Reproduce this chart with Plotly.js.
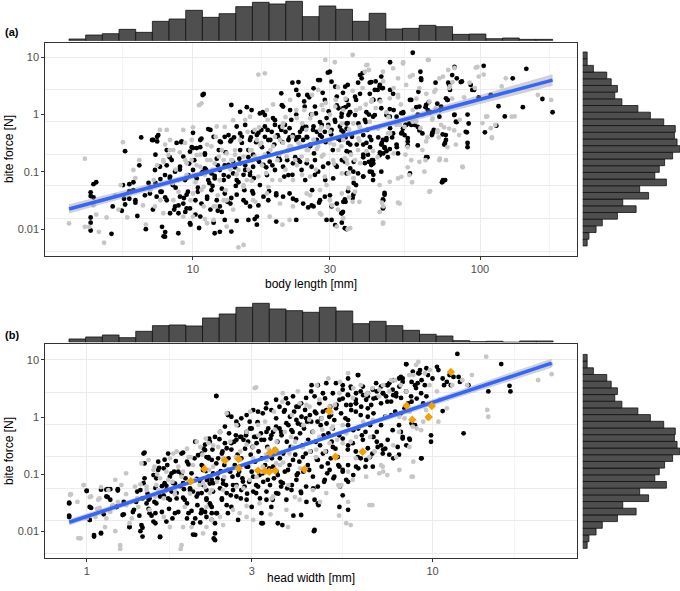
<!DOCTYPE html>
<html><head><meta charset="utf-8">
<script src="https://cdn.plot.ly/plotly-3.0.1.min.js"></script>
<style>html,body{margin:0;padding:0;background:#fff}#chart{width:680px;height:591px}</style>
</head><body><div id="chart"></div>
<script>
// ---------------- DATA ----------------
// Panel (a): body length [mm] vs bite force [N]  (black group / grey group)
const blackA = [[4.4,0.044],[4.4,0.038],[4.4,0.016],[4.4,0.013],[4.4,0.0095],[4.5,0.061],[4.6,0.066],[4.5,0.036],
[5.2,0.0083],[5.25,0.025],[5.7,0.059],[5.75,0.034],[5.8,0.23],[5.65,0.021],[5.8,0.027],[6.0,0.046],[6.0,0.034],[6.0,0.061],[6.2,0.066],[6.2,0.048],[6.3,0.032],[6.3,0.029],[6.4,0.017],[6.5,0.13],[6.6,0.40],[6.8,0.039],[6.85,0.01],[7.0,0.064],[7.1,0.053],[7.2,0.36],[7.25,0.022],[7.4,0.064],[7.4,0.2],[7.5,0.41],[7.5,0.34],[7.7,0.075],[7.7,0.045],[7.8,0.011],[7.9,0.0075],[8.0,0.0089],[8.0,0.036],[8.1,0.13],[8.3,0.078],[8.3,0.18],[8.5,0.059],[8.6,0.022],[8.7,0.053],[8.9,0.019],[8.9,0.026],[9.0,0.11],[9.1,0.33],[9.3,0.035],[9.4,0.020],[9.5,0.078],[9.5,0.023],[9.6,0.045],[9.7,0.14],[9.8,0.012],[9.9,0.27],[10,0.48],[10.1,0.16],[10.2,0.018],[10.2,0.085],[10.4,0.053],[10.5,0.0105],[10.6,0.27],[10.7,0.38],[10.8,2.2],[10.8,0.1],[11.0,0.2],[11.1,0.11],[11.2,0.034],[11.3,0.56],[11.4,0.064],[11.5,0.022],[11.7,0.057],[11.8,0.013],[11.9,0.085],[12.1,0.17],[12.2,0.13],[12.2,0.021],[12.4,0.009],[12.5,0.33],[12.6,0.051],[12.8,0.072],[12.9,0.13],[13.0,0.22],[13.2,0.030],[13.3,0.083],[13.5,0.34],[13.6,0.035],[13.8,0.15],[13.9,0.4],[14.0,0.12],[14.1,0.057],[14.2,0.014],[14.4,0.066],[14.5,0.17],[14.6,0.24],[14.8,0.41],[15.0,0.089],[15.1,0.048],[15.2,0.13],[15.3,0.029],[15.4,1.35],[15.6,0.18],[15.8,0.1],[15.9,0.40],[16.1,0.046],[16.2,0.2],[16.3,0.078],[16.4,0.015],[16.6,0.33],[16.7,0.012],[16.9,0.48],[17.0,0.15],[17.1,0.059],[17.4,0.27],[17.5,1.1],[17.8,0.41],[18.0,0.12],[18.2,0.54],[18.3,0.21],[18.4,0.046],[18.6,0.36],[18.9,0.13],[19.0,0.87],[19.2,0.3],[19.5,0.039],[19.7,0.44],[19.9,0.18],[20.1,0.61],[20.4,1.46],[20.5,0.33],[20.8,0.083],[21,0.5],[21.3,0.16],[21.5,0.24],[21.7,0.4],[21.8,1.2],[22.0,0.81],[22.2,0.089],[22.3,0.034],[22.7,0.18],[22.9,1.0],[23.0,0.4],[23.3,3.7],[23.4,0.41],[23.6,0.15],[24,0.56],[24.2,0.36],[24.4,1.7],[24.6,0.072],[24.8,0.61],[25.0,0.40],[25.2,0.024],[25.4,2.0],[25.6,0.30],[25.8,1.0],[26,0.048],[26.2,0.54],[26.4,0.21],[26.6,0.089],[26.8,1.05],[27,0.36],[27.3,4.0],[27.5,0.029],[27.7,0.74],[28.1,0.41],[28.3,2.4],[28.9,0.072],[29.0,0.33],[29.2,0.87],[29.5,5.4],[29.7,1.14],[30,0.039],[30.3,0.45],[30.7,0.24],[31.2,0.81],[31.4,0.13],[31.7,1.45],[32,0.38],
[34.3,0.01],[33.3,0.02],[34,0.030],[34.7,0.046],[36,0.035],[37,0.059],[37.6,0.094],[36.3,0.15],[35.2,0.22],[34.7,0.32],[34,0.40],[34.6,0.71],[35.2,1.1],[34,1.35],[33.3,2.4],[34.6,3.3],[37,1.8],[37.6,3.6],[38.2,4.9],[39,5.3],[39.2,0.44],[39.2,0.18],[39.2,0.083],[40,0.74],[40.5,0.54],[41,1.0],[41.3,3.6],[41.4,0.27],[42,0.16],[42.5,1.8],[42.5,0.089],[43.3,3.8],[44,2.7],[44.8,3.3],[45.5,2.9],[44.2,0.40],[44.8,0.22],[45.5,0.32],[46,0.21],[46.5,0.27],[47.2,0.36],[48.6,2.7],[48.6,0.58],[49.4,0.40],[50,1.2],[48.6,8.2],[51.3,0.27],[53.5,0.49],[54,1.1],[55,0.66],[56,0.39],[57,1.8],[57,0.094],[58.3,12],[59.3,0.66],[60,1.35],[61,2.5],[62,5.6],[62.4,4.0],[63,0.47],[64.6,1.35],[65.6,0.18],[66.3,1.65],[67,1.1],[68.2,0.47],[69,0.54],[70,3.6],[71,1.55],[72.5,1.2],[73.7,0.066],[74.3,0.072],[75.5,0.32],[76,0.44],[77,1.8],[77.5,3.6],[78.6,2.7],[80,4.9],[81.5,6.8],[83,4.3],[81.5,1.0],[83,0.74],[86.5,3.8],[90,0.49],[90.5,0.32],[90.5,0.27],[90.5,1.0],[94,2.7],[99,2.0],[104,0.49],[103,7.1],[109,2.2],[114,0.64],[116,1.4],[122,0.93],[130,4.3],[141,1.35],[145,6.3],[165,1.87],[179,1.1],[33,0.013],[46.5,0.043],[46,0.032],[46,0.024],[42,0.1],[47.7,0.18],[41,0.15],[36.3,0.064],[42.5,0.14]];

const blackAmid = [[10.9,2.29],[13.6,1.47],[14.6,1.12],[16.0,1.2],[17.1,1.05],[17.8,0.98],[19.3,0.80],[20.3,2.35],[20.6,1.38],[22.2,3.6],[22.9,2.69],[23.3,2.2],[24.5,1.38],[25.0,2.2],[26.3,2.87],[26.6,1.38],[27.7,4.0],[28.8,1.8],[30.0,5.6],[30.4,3.76],[31.3,3.07],[31.7,2.06],[32.1,1.29],[33.0,1.05],[33.9,3.07],[34.3,1.8],[34.8,0.98],
[7.27,0.36],[7.57,0.44],[8.10,0.24],[8.43,0.161],[8.77,0.32],[9.13,0.34],[9.25,0.185],[9.76,0.225],[10.0,0.26],[10.3,0.26],[10.6,0.36],[11.0,0.21],[11.5,0.54],[11.8,0.41],[12.3,0.24],[12.4,0.34],[12.9,0.41],[13.3,0.44],[13.6,0.36],[14.2,0.62],[14.6,0.47],[14.8,0.32],[15.2,0.66],[15.6,0.24],[15.8,0.36],[16.2,0.50],[16.7,0.44],[17.3,0.54],[17.8,0.62],[18.3,0.36],[18.8,0.50],[19.3,0.66],[19.8,0.41],[20.3,0.54],[20.9,0.66],[21.5,0.36],[21.7,0.58],[22.3,0.44],[22.9,0.36],[23.6,0.50],[24.2,0.62],[24.9,0.41],[25.6,0.28],[26.3,0.62],[27.0,0.50],[27.7,0.44],[28.1,0.66],[28.8,0.50],[29.6,0.66],[30.4,0.54],[31.3,0.75],[32.5,0.62],[33.4,0.50],[34.3,0.70],
[7.37,0.108],[7.67,0.123],[7.99,0.088],[8.32,0.083],[8.66,0.101],[9.01,0.123],[9.38,0.072],[9.63,0.088],[10.0,0.108],[10.3,0.077],[10.7,0.094],[11.0,0.115],[11.3,0.072],[11.6,0.094],[11.9,0.077],[12.4,0.108],[12.8,0.088],[13.3,0.132],[13.8,0.094],[14.2,0.072],[14.6,0.141],[15.2,0.108],[15.8,0.088],[16.2,0.123],[16.9,0.161],[17.6,0.132],[18.1,0.088],[18.5,0.151],[19.3,0.108],[20.1,0.161],[20.6,0.123],[21.5,0.088],[22.3,0.141],[23.3,0.161],[23.9,0.108],[24.9,0.141],[25.9,0.123],[26.6,0.161],[27.3,0.101],[28.4,0.123],[29.6,0.141],[30.8,0.077],[31.7,0.123],[33.0,0.161],[34.3,0.094],
[7.08,0.042],[7.47,0.037],[7.78,0.045],[8.10,0.032],[8.32,0.019],[8.66,0.025],[9.01,0.037],[9.25,0.028],[9.50,0.040],[9.76,0.023],[10.2,0.032],[10.4,0.045],[10.7,0.028],[11.2,0.037],[11.6,0.048],[12.1,0.032],[12.4,0.025],[12.9,0.042],[13.5,0.028],[14.2,0.040],[15.0,0.032],[15.8,0.025],[16.2,0.042],[16.9,0.026],[17.6,0.037],[18.3,0.032],[19.5,0.042],[20.6,0.037],[21.7,0.042],[22.9,0.032],[24.2,0.028],[26.3,0.025],[27.7,0.032],[28.8,0.037],[30.4,0.025],[31.7,0.028],[33.4,0.030],
[7.99,0.0074],[8.89,0.0085],[9.76,0.0127],[10.6,0.0166],[11.9,0.0085],[12.6,0.020],[12.9,0.0145],[13.6,0.0091],[15.6,0.0145],[16.7,0.0166],[19.5,0.0136],[22.9,0.0145],[25.9,0.026],[29.2,0.0145],[30.4,0.0145],[31.3,0.0118],[33.0,0.019]];

const blackAright = [[38.7,4.3],[45.3,4.6],[62.3,4.3],[78.1,3.3],[85.7,3.7],[92.8,3.3],[95.4,2.7],[91.3,0.7],[81.3,0.98],[82.4,0.75],[89.2,0.50],[76.1,0.36],[75.1,0.30],[74.1,0.45],[68.4,0.49],[68.0,0.44],[76.1,1.92],[77.1,1.8],[73.2,1.38],[72.2,0.92],[65.8,1.2],[64.9,1.47],[61.5,1.38],[60.7,1.0],[56.7,0.70],[57.6,1.8],[53.9,1.06],[53.2,1.06],[48.5,1.25],[48.5,0.92],[45.3,1.29],[44.7,1.8],[42.4,1.8],[41.3,2.3],[43.0,2.7],[41.8,3.7],[44.7,3.1],[45.9,2.9],[49.8,2.3],[36.7,2.05],[38.2,2.3],[34.8,1.47],[33.4,1.29],[35.3,1.1],[32.9,0.92],[36.7,0.98],[37.7,0.70],[40.2,1.1],[39.7,0.81],[42.4,0.92],[43.0,0.98],[47.2,0.98],[51.2,0.92],[53.9,0.57],[55.3,0.66],[57.6,0.66],[60.7,0.61],[61.5,0.53],[54.6,0.44],[56.0,0.34],[53.2,0.47],[49.8,0.47],[47.2,0.39],[45.9,0.36],[45.3,0.30],[46.5,0.26],[47.2,0.23],[48.5,0.25],[51.2,0.30],[51.8,0.21],[56.0,0.29],[60.7,0.29],[64.9,0.18],[41.8,0.36],[40.2,0.32],[41.3,0.41],[39.2,0.30],[40.7,0.20],[39.2,0.20],[37.2,0.30],[35.3,0.30],[35.8,0.41],[34.3,0.57],[32.9,0.53],[32.5,0.36],[34.3,0.23],[33.8,0.151],[35.3,0.115],[36.2,0.101],[39.7,0.142],[41.8,0.132],[42.4,0.16],[42.4,0.072],[41.3,0.101],[39.2,0.083],[44.7,0.195],[46.5,0.040],[45.9,0.033],[45.9,0.023],[36.2,0.040],[33.8,0.033],[32.9,0.019],[33.8,0.0104],[74.1,0.067],[75.6,0.072],[45.3,0.101]];

const greyA = [[3.7,0.0126],[4.2,0.17],[4.2,0.011],[4.35,0.011],[4.9,0.0058],[4.7,0.009],[4.6,0.018],[4.5,0.026],[5.0,0.016],[5.35,0.039],[5.5,0.022],[5.6,0.059],[5.7,0.33],[5.9,0.016],[6.2,0.108],[6.3,0.078],[6.5,0.16],[6.7,0.026],[6.85,0.012],[7.1,0.048],[7.3,0.072],[7.5,0.13],[7.7,0.032],[7.9,0.15],[8.1,0.54],[8.3,0.24],[8.5,0.064],[8.7,0.11],[8.9,0.045],[9.0,0.22],[9.2,0.0058],[9.4,0.16],[9.5,0.089],[9.8,0.032],[9.9,0.36],[10.2,0.066],[10.3,0.13],[10.5,1.46],[10.6,0.2],[10.7,0.048],[11.0,0.089],[11.2,0.3],[11.5,0.16],[11.7,0.11],[12,0.41],[12.2,0.039],[12.4,0.072],[12.6,0.24],[12.9,0.61],[13.1,0.032],[13.5,0.11],[13.7,0.16],[14,0.2],[14.4,0.0048],[14.6,0.36],[15,0.059],[15.2,0.81],[15.6,0.11],[15.8,0.24],[16.1,0.16],[16.4,0.54],[16.7,0.36],[16.9,5.0],[17.1,0.3],[17.4,0.13],[17.8,0.2],[18.2,0.81],[18.6,0.24],[18.9,0.072],[19.3,0.41],[19.7,0.16],[20.1,0.36],[20.5,0.61],[21,0.11],[21.4,0.24],[21.8,1.8],[22.2,0.41],[22.7,0.16],[23,0.87],[23.6,0.3],[24,0.089],[24.4,1.2],[24.8,0.54],[25.2,0.24],[25.6,0.039],[26,1.0],[26.4,0.36],[26.8,0.11],[27.3,2.7],[27.7,0.54],[28.1,1.46],[28.5,0.2],[28.9,9.0],[29.2,0.059],[29.5,0.61],[30,1.0],[30.5,0.026],[31,0.3],[31.4,1.8],[32,0.022],[31.2,8.2],
[36,11],[35,0.036],[36,0.03],[34.6,0.01],[36.3,0.078],[37.6,0.24],[38,0.61],[39,2.9],[40.5,7.4],[41,6.0],[42,1.8],[43.3,1.3],[44,0.18],[45.5,0.029],[46,0.025],[46,0.013],[47.2,1.1],[48.6,0.47],[50,0.21],[51.8,0.029],[51.8,2.0],[52.6,0.66],[54,8.2],[55,0.2],[56,0.27],[57,4.6],[58,0.066],[58.3,1.2],[60,1.9],[62,0.58],[63,0.24],[64.6,0.16],[65.6,0.40],[66.3,9],[67,0.046],[68.2,0.81],[70,2.7],[71,0.49],[71.8,0.40],[72.5,0.17],[74.3,4.6],[77,0.27],[77.5,6.0],[78.6,3.1],[81.5,6.5],[85,0.81],[87,0.12],[92,3.6],[96,2.9],[98,6.8],[99,4.6],[102,0.71],[106,0.93],[109,0.58],[110,0.40],[119,3.1],[123,4.3],[132,0.93],[159,2.2],[177,1.8],[46,3.8],[51.8,4.3],[35.5,0.2],[34.5,0.14],[33,0.094],
[12.0,0.025],[13.0,0.048],[14.2,0.09],[15.5,0.5],[16.0,0.07],[17.0,0.6],[18.0,0.095],[19.0,1.5],[20.0,0.2],[21.0,0.9],[22.0,0.28],[23.0,0.13],[24.0,0.7],[25.0,0.16],[26.0,2.2],[27.0,0.25],[28.0,0.6],[29.0,1.6],[30.0,0.5],[31.0,0.14],[32.0,3.0],[33.0,0.7],[34.0,1.9],[35.0,0.55],[36.0,2.6],[37.0,1.2],[38.0,0.35],[40.0,1.5],[43.0,0.6],[45.0,1.7],[48.0,0.9],[50.0,2.9],[53.0,1.5],[56.0,0.12],[60.0,0.75],[65.0,2.3],[70.0,1.3],[75.0,0.6],[80.0,1.9],[88.0,2.0],[20.5,0.012],[16.5,0.03],[28.0,0.018],[38.0,0.03],[10.0,0.6],[8.0,0.3],[11.0,0.015]];

const greyAmid = [[7.67,0.54],[7.88,0.161],[8.21,0.197],[8.54,0.24],[8.89,0.072],[9.38,0.32],[9.50,0.141],[9.89,0.161],[10.3,0.197],[10.6,0.123],[10.9,0.055],[11.2,0.161],[11.6,0.28],[11.9,0.141],[12.3,0.185],[12.4,0.072],[12.8,0.161],[13.1,0.21],[13.6,0.161],[14.0,0.24],[14.4,0.108],[15.0,0.185],[15.4,0.072],[16.0,0.24],[16.4,0.185],[16.9,0.083],[17.3,0.32],[17.8,0.185],[18.3,0.055],[19.0,0.28],[19.5,0.21],[20.1,0.072],[20.6,0.32],[21.2,0.185],[21.7,0.28],[22.3,0.072],[23.3,0.32],[23.9,0.185],[24.9,0.24],[25.6,0.083],[26.3,0.36],[27.3,0.28],[28.1,0.185],[28.8,0.083],[30.0,0.32],[30.8,0.161],[32.1,0.24],[33.4,0.36],[34.3,0.161],[7.37,0.025],[7.88,0.019],[8.54,0.032],[9.25,0.0166],[10.0,0.042],[10.9,0.025],[11.8,0.0145],[12.8,0.032],[13.8,0.022],[15.0,0.055],[16.2,0.032],[18.1,0.042],[20.1,0.028],[22.3,0.025],[24.9,0.042],[27.7,0.048],[30.0,0.032],[33.0,0.042],[17.8,5.25],[20.6,0.70],[22.9,1.2],[25.6,0.86],[28.4,1.2],[31.3,1.38],[33.4,1.2],[18.1,1.2],[15.8,0.92],[13.8,0.80],[12.1,0.62],[10.7,1.57],[9.25,0.54],[8.32,0.36],[15.0,0.0053],[13.1,0.0111],[10.0,0.0166],[11.2,0.0127],[11.8,0.025],[18.5,0.0166],[21.7,0.0145],[27.7,0.019],[31.7,0.0111],
[40.2,7.3],[39.7,5.6],[45.9,5.6],[49.8,6.4],[53.9,7.8],[65.8,9.0],[58.3,4.9],[72.2,4.3],[80.2,3.7],[96.7,6.6],[103,5.0],[78.1,2.9],[69.3,2.5],[66.6,1.68],[61.5,2.9],[55.3,3.3],[51.8,2.2],[48.5,1.92],[41.8,1.68],[38.2,1.29],[36.2,0.70],[34.8,0.47],[32.9,0.28],[33.8,0.173],[36.7,0.16],[38.2,0.142],[36.2,0.077],[34.8,0.052],[36.7,0.045],[33.4,0.0155],[35.3,0.0104],[44.7,0.059],[48.5,0.067],[51.8,0.077],[53.2,0.082],[56.7,0.088],[64.0,0.101],[57.6,0.16],[61.5,0.15],[66.6,0.045],[72.2,0.16],[76.1,0.16],[82.4,0.30],[86.8,0.124],[81.3,0.53],[73.2,0.66],[68.4,0.86],[63.1,0.98],[58.3,0.75],[54.6,0.61],[51.2,0.66],[47.8,0.47],[44.1,0.57],[41.3,0.75],[38.2,0.61],[64.9,0.34],[71.2,0.53],[78.1,0.57],[84.6,0.44],[105,0.92],[129,0.92],[110,0.39],[113,0.66],[44.7,0.020],[52.5,0.028],[45.9,0.0125],[42.4,0.23],[40.2,0.23],[37.7,0.39],[34.8,0.094]];

// Panel (b): head width [mm] vs bite force [N]
const blackB = [[0.89,0.031],[0.89,0.019],[1.0,0.051],[1.03,0.026],[1.02,0.016],[1.05,0.0087],[1.10,0.0095],[1.12,0.020],[1.14,0.041],[1.15,0.055],[1.17,0.055],[1.19,0.028],[1.22,0.027],[1.23,0.055],[1.28,0.020],[1.33,0.012],[1.36,0.022],[1.40,0.050],[1.42,0.019],[1.43,0.0102],[1.45,0.0117],[1.46,0.070],[1.47,0.24],[1.49,0.031],[1.50,0.046],[1.51,0.025],[1.52,0.038],[1.54,0.019],[1.56,0.015],[1.57,0.033],[1.58,0.058],[1.59,0.085],[1.61,0.119],[1.62,0.130],[1.63,0.0080],[1.65,0.062],[1.67,0.043],[1.68,0.18],[1.70,0.063],[1.70,0.015],[1.71,0.145],[1.72,0.038],[1.73,0.025],[1.74,0.091],[1.76,0.050],[1.77,0.017],[1.79,0.111],[1.80,0.069],[1.81,0.17],[1.82,0.038],[1.84,0.022],[1.86,0.062],[1.88,0.101],[1.90,0.24],[1.90,0.039],[1.91,0.055],[1.93,0.085],[1.95,0.031],[1.95,0.017],[1.97,0.149],[1.99,0.057],[2.01,0.023],[2.03,0.050],[2.03,0.0089],[2.05,0.19],[2.06,0.017],[2.08,0.083],[2.09,0.029],[2.10,0.046],[2.13,0.0145],[2.14,0.021],[2.15,0.145],[2.17,0.065],[2.18,0.28],[2.20,0.022],[2.21,0.114],[2.22,0.038],[2.23,0.079],[2.25,0.19],[2.26,0.42],[2.27,0.069],[2.28,0.029],[2.30,0.021],[2.31,0.27],[2.32,0.050],[2.33,0.0076],[2.35,0.0093],[2.37,2.32],[2.38,0.021],[2.39,0.085],[2.40,0.19],[2.42,0.41],[2.43,0.057],[2.44,0.114],[2.46,0.038],[2.47,0.25],[2.48,0.069],[2.50,0.145],[2.51,0.35],[2.53,0.065],[2.54,0.029],[2.56,1.08],[2.57,0.19],[2.58,0.52],[2.60,0.111],[2.61,0.043],[2.62,0.27],[2.64,0.091],[2.65,0.053],[2.67,0.37],[2.68,0.145],[2.70,0.48],[2.71,0.065],[2.73,0.22],[2.74,0.72],[2.76,0.111],[2.78,0.45],[2.79,0.038],[2.80,0.19],[2.82,0.085],[2.84,0.40],[2.86,0.061],[2.87,0.28],[2.89,0.48],[2.90,0.136],[2.91,0.046],[2.93,0.37],[2.95,0.074],[2.97,0.63],[2.98,0.22],[3.00,0.111],[3.02,0.30],[3.03,0.050],[3.05,0.45],[3.07,0.166],[3.09,0.065],[3.10,0.35],[3.12,0.81],[3.14,0.25],[3.16,0.097],[3.17,0.038],[3.19,0.52],[3.21,0.19],[3.23,0.014],[3.24,0.074],[3.26,0.40],[3.28,0.145],[3.30,1.42],[3.31,0.050],[3.33,0.30],[3.35,0.63],[3.37,0.127],[3.39,0.065],[3.40,0.42],[3.43,0.19],[3.45,0.036],[3.46,0.55],[3.48,0.085],[3.50,0.27],[3.53,0.95],[3.54,0.111],[3.56,0.37],[3.58,0.046],[3.61,0.63],[3.62,0.19],[3.64,0.074],[3.66,0.48],[3.68,0.013],[3.70,0.23],[3.72,1.24],[3.74,0.111],[3.77,2.11],[3.79,0.37],[3.80,0.057],[3.83,0.72],[3.86,0.145],[3.87,1.01],[3.89,0.30],[3.92,0.065],[3.94,0.55],[3.96,0.019],[3.98,1.24],[4.01,0.22],[4.03,0.42],[4.05,0.097],[4.08,0.77],[4.10,1.51],[4.12,0.166],[4.14,0.52],[4.16,0.050],[4.18,1.01],[4.21,0.32],[4.23,0.111],[4.25,0.63],[4.28,1.33],[4.30,0.23],[4.32,0.033],[4.34,0.83],[4.37,0.40],[4.40,0.119],[4.42,1.08],[4.44,0.25],[4.47,3.6],[4.50,0.55],[4.52,0.057],[4.54,0.0102],[4.57,1.24],[4.60,0.37],[4.63,0.18],[4.65,0.83],[4.68,0.029],[4.71,1.73],[4.73,0.32],[4.75,0.72],[4.78,0.136],[4.82,1.24],[4.84,0.48],[4.86,0.074],[4.89,2.11],[4.92,0.25],[4.94,0.77],[4.96,0.104],[5.00,0.52],[5.03,1.01],[5.06,1.51],[5.08,0.19],[5.11,0.37],[5.15,0.63],[5.17,0.085],[5.20,0.885],[5.24,0.28],[5.28,1.62],[5.34,0.145],[5.37,0.48],
[6.1,5.4],[5.7,4.7],[5.5,3.6],[5.8,3.4],[6.2,2.8],[5.5,2.1],[5.7,2.4],[6.0,2.0],[6.3,2.4],[6.5,2.6],[5.8,1.62],[6.0,1.73],[6.5,1.42],[6.75,2.1],[6.9,2.8],[7.1,3.4],[7.2,2.6],[7.4,3.6],[7.5,3.9],[7.7,4.4],[8.0,4.7],[8.1,5.0],[8.2,4.1],[8.4,8.3],[8.7,4.1],[8.9,3.6],[9.1,5.8],[9.2,6.6],[9.3,4.4],[9.5,3.6],[9.6,7.1],[9.7,5.4],[10.0,4.7],[10.3,7.5],[10.4,6.6],[10.7,4.7],[10.8,3.6],[11.0,4.1],[11.2,5.4],[11.3,3.6],[11.5,5.0],[11.8,12.6],[11.9,5.0],[12.0,4.1],[12.7,3.6],[14.5,2.8],[15.8,8.4],[16.7,3.5],[16.8,2.8],[12.3,0.52],[10.7,1.27],[9.9,0.48],[9.9,0.37],[9.3,0.19],[5.6,0.95],[5.7,0.72],[5.9,0.59],[6.1,0.63],[6.25,0.48],[6.4,0.55],[6.6,0.72],[6.75,0.45],[6.9,0.37],[7.1,0.32],[7.3,0.28],[7.5,0.22],[7.7,0.19],[8.0,0.22],[8.1,0.55],[8.2,0.42],[8.4,0.32],[8.6,0.40],[8.7,0.77],[8.9,0.72],[8.0,0.72],[7.1,0.72],[7.3,1.01],[7.6,1.08],[7.8,1.24],[8.1,1.16],[8.3,1.42],[8.5,1.73],[8.7,1.85],[9.0,2.1],[9.4,1.73],[9.6,2.3],[7.4,1.85],[7.7,2.4],[5.5,0.42],[5.7,0.32],[6.0,0.25],[6.2,0.19],[6.4,0.136],[6.6,0.20],[6.7,0.23],[5.7,0.145],[5.5,0.111],[6.1,0.127],[5.9,0.097],[5.7,0.074],[5.4,0.061],[5.5,0.043],[5.7,0.024],[7.2,0.27],[6.75,1.16],[6.5,1.01],[6.2,1.08],[6.0,1.24],[5.7,0.885],[6.9,0.55]];

const blackBmid = [[2.37,2.33],[8.39,8.4],[8.77,6.2],[9.16,5.8],[9.06,3.9],[8.20,4.7],[8.02,3.4],[7.67,3.0],[7.85,2.3],[7.42,3.6],[7.18,2.6],[6.87,3.9],[6.72,3.0],[6.50,2.3],[6.29,3.4],[6.08,5.4],[6.01,2.6],[5.82,3.2],[5.69,2.45],[5.50,3.0],[5.38,2.0],[5.26,3.9],[5.15,2.6],[4.93,3.9],[4.82,2.6],[4.66,3.6],[4.56,2.3],[4.46,2.8],[4.31,2.15],[4.17,1.73],[4.04,1.51],[3.95,2.3],[3.82,1.73],[3.74,1.32],[3.61,1.51],[3.53,2.0],[3.42,1.32],[3.31,1.73],[3.23,1.16],[3.13,1.24],[3.03,1.32],[2.96,0.83],[2.90,1.08],[2.80,0.95],[2.71,0.83],[2.62,1.01],[2.56,1.16],[2.51,0.68],[2.43,0.55],[2.35,0.45],[2.27,0.37],[2.20,0.33],[2.15,0.23],
[2.22,0.20],[2.30,0.178],[2.37,0.155],[2.46,0.23],[2.54,0.285],[2.62,0.35],[2.71,0.40],[2.80,0.45],[2.90,0.55],[3.0,0.63],[3.09,0.45],[3.20,0.40],[3.31,0.55],[3.42,0.48],[3.53,0.68],[3.65,0.55],[3.78,0.78],[3.91,0.59],[4.04,0.89],[4.17,0.73],[4.31,0.95],[4.46,0.83],[4.61,1.16],[4.77,0.95],[4.93,1.32],[5.09,1.08],[5.26,1.42],[5.44,1.16],[5.63,1.62],[5.82,1.32],[6.01,1.73],[6.22,1.51],[6.43,2.0],[6.65,1.62],[6.87,2.15],[7.10,1.73],[7.34,2.3],[7.59,1.86],[7.85,2.6],[8.11,2.15],[8.39,2.8],[8.67,2.3],[8.96,3.2],[9.27,2.6],
[2.17,0.119],[2.25,0.091],[2.32,0.070],[2.40,0.104],[2.48,0.080],[2.56,0.119],[2.65,0.065],[2.74,0.097],[2.83,0.075],[2.93,0.136],[3.03,0.091],[3.13,0.061],[3.23,0.104],[3.34,0.080],[3.46,0.136],[3.57,0.097],[3.69,0.070],[3.82,0.119],[3.95,0.178],[4.08,0.104],[4.22,0.20],[4.36,0.145],[4.51,0.091],[4.66,0.178],[4.82,0.23],[4.98,0.155],[5.15,0.30],[5.32,0.20],[5.50,0.119],[5.69,0.27],[5.88,0.35],[6.08,0.20],[6.29,0.40],[6.50,0.285],[6.72,0.45],[6.94,0.30],[7.18,0.23],[7.42,0.40],[7.67,0.59],[7.93,0.30],[8.20,0.45],[8.57,0.42],[9.27,0.19],
[2.15,0.047],[2.22,0.036],[2.30,0.027],[2.37,0.021],[2.46,0.036],[2.54,0.047],[2.62,0.027],[2.71,0.041],[2.80,0.053],[2.90,0.036],[3.0,0.027],[3.09,0.047],[3.20,0.021],[3.31,0.036],[3.42,0.027],[3.53,0.047],[3.65,0.061],[3.78,0.036],[3.91,0.053],[4.04,0.080],[4.17,0.047],[4.31,0.061],[4.56,0.036],[4.66,0.031],[4.88,0.080],[5.04,0.119],[5.20,0.091],[5.38,0.136],[5.63,0.080],[6.01,0.136],[6.43,0.178],[6.72,0.136],[2.22,0.018],[2.35,0.014],[2.35,0.0071],[2.56,0.021],[2.74,0.016],[3.20,0.014],[3.57,0.014],[4.17,0.0195],[4.56,0.0107],[4.66,0.061],[5.38,0.027]];

const blackBleft = [[0.89,0.032],[0.89,0.018],[1.0,0.052],[1.02,0.027],[1.02,0.016],[1.05,0.0082],[1.10,0.054],[1.10,0.0093],[1.14,0.054],[1.15,0.040],[1.17,0.036],[1.22,0.027],[1.23,0.052],[1.28,0.033],[1.27,0.0195],[1.33,0.012],[1.37,0.024],[1.39,0.033],[1.43,0.053],[1.44,0.013],[1.45,0.038],[1.46,0.23],[1.45,0.0082],[1.47,0.085],[1.47,0.155],[1.51,0.036],[1.52,0.021],[1.56,0.097],[1.58,0.021],[1.58,0.014],[1.59,0.031],[1.61,0.166],[1.63,0.041],[1.63,0.0082],[1.65,0.022],[1.67,0.127],[1.68,0.070],[1.70,0.053],[1.72,0.23],[1.74,0.036],[1.76,0.104],[1.78,0.070],[1.80,0.021],[1.82,0.047],[1.84,0.111],[1.88,0.23],[1.90,0.070],[1.92,0.036],[1.95,0.166],[1.97,0.021],[1.99,0.053],[2.01,0.104],[2.03,0.014],[2.06,0.37],[2.08,0.041],[2.10,0.215],[2.13,0.075],[2.15,0.024],[2.17,0.136],[2.20,0.265],[2.22,0.053],[2.25,0.20],[2.27,0.031],[2.30,0.080],[2.32,0.104],[2.30,0.016],[2.06,0.0088]];

const greyB = [[0.90,0.045],[0.96,0.0076],[0.94,0.033],[0.98,0.065],[1.0,0.017],[1.03,0.041],[1.07,0.025],[1.09,0.038],[1.14,0.017],[1.17,0.022],[1.21,0.0102],[1.23,0.033],[1.25,0.005],[1.30,0.029],[1.35,0.017],[1.40,0.038],[1.43,0.067],[1.49,0.053],[1.52,0.024],[1.57,0.136],[1.59,0.065],[1.63,0.085],[1.67,0.038],[1.70,0.111],[1.74,0.19],[1.77,0.074],[1.82,0.25],[1.87,0.005],[1.90,0.111],[1.95,0.28],[1.99,0.046],[2.03,0.145],[2.08,0.37],[2.12,0.065],[2.16,0.22],[2.21,0.42],[2.26,0.119],[2.32,0.32],[2.38,0.074],[2.43,0.55],[2.48,0.19],[2.54,1.16],[2.60,0.37],[2.65,0.127],[2.71,0.72],[2.78,0.25],[2.84,0.057],[2.90,0.55],[2.97,1.24],[3.03,0.19],[3.09,3.3],[3.14,0.48],[3.21,0.111],[3.28,0.83],[3.35,0.28],[3.43,0.038],[3.48,1.24],[3.54,0.37],[3.62,0.145],[3.68,1.85],[3.74,0.55],[3.83,0.065],[3.92,1.08],[4.01,0.37],[4.08,2.8],[4.14,0.127],[4.23,0.72],[4.32,1.62],[4.42,0.25],[4.52,0.55],[4.63,3.6],[4.73,0.033],[4.78,0.95],[4.89,0.25],[5.0,4.7],[5.11,0.63],[5.22,1.62],[5.34,0.065],[5.37,0.019],
[5.4,4.1],[5.7,5.8],[5.9,3.2],[6.2,3.6],[6.5,2.6],[6.7,3.2],[7.0,2.3],[7.2,3.6],[7.5,2.8],[7.8,4.4],[8.1,3.6],[8.4,2.8],[8.8,5.4],[9.1,9.2],[9.5,5.8],[9.8,3.6],[10.3,2.8],[10.5,2.0],[11.0,1.42],[11.4,3.6],[12.2,4.4],[12.6,3.6],[13.0,5.4],[14.3,11.3],[14.4,1.33],[14.5,1.01],[20.2,4.4],[22.0,8.3],[22.1,5.6],[5.5,0.72],[5.8,0.37],[6.0,0.19],[6.3,0.83],[6.6,0.45],[6.8,0.25],[7.1,0.145],[7.4,0.097],[7.7,0.32],[8.0,0.55],[8.3,0.95],[8.6,1.24],[9.0,0.63],[9.4,0.83],[9.7,0.95],[10.4,0.83],[8.7,0.091],[8.8,0.166],[6.7,0.029],[5.8,0.013],[5.7,0.033],[5.45,0.065],[5.7,0.111],[7.2,0.111],
[1.1,0.06],[1.3,0.045],[1.6,0.1],[1.8,0.045],[2.0,0.2],[2.2,0.06],[2.4,0.3],[2.5,0.09],[2.7,0.2],[2.9,0.33],[3.1,0.09],[3.3,0.22],[3.5,0.6],[3.7,0.16],[3.9,0.45],[4.2,0.3],[4.4,0.9],[4.6,0.2],[4.8,0.6],[5.1,1.2],[5.3,0.4],[2.3,0.016],[2.9,0.028],[3.4,0.02],[4.0,0.04],[1.9,0.012]];

const greyBmid = [[3.06,3.2],[3.13,0.73],[3.69,2.6],[4.13,1.73],[4.41,1.51],[4.71,2.0],[5.04,1.51],[5.38,2.6],[5.88,2.15],[6.43,2.45],[7.02,3.0],[7.59,4.4],[8.57,5.4],[8.96,8.1],[9.83,6.6],[8.02,1.01],[8.77,0.68],[9.58,1.32],[7.34,1.01],[6.72,0.89],[6.15,0.68],[5.63,0.52],[5.15,0.68],[4.71,0.45],[4.31,0.35],[3.95,0.30],[3.61,0.23],[3.31,0.178],[3.03,0.30],[2.77,0.178],[2.54,0.119],[2.32,0.136],[2.17,0.070],[2.27,0.047],[2.48,0.053],[2.71,0.061],[2.96,0.080],[3.23,0.136],[3.53,0.155],[3.86,0.23],[4.22,0.30],[4.61,0.27],[5.04,0.35],[5.50,0.35],[6.01,0.45],[6.57,0.20],[7.18,0.136],[7.85,0.20],[8.57,0.30],[9.27,0.59],[2.22,0.012],[2.43,0.018],[2.65,0.024],[2.90,0.018],[3.16,0.031],[3.46,0.041],[3.78,0.024],[4.13,0.036],[4.51,0.053],[4.93,0.047],[5.38,0.061],[5.88,0.080],[6.43,0.091],[7.02,0.104],[8.02,0.119],[8.77,0.091],[6.57,0.029],[5.63,0.014],[3.82,0.012],[3.03,0.016],[2.77,0.021],[2.48,0.013],[2.17,0.0093],
[0.895,0.044],[0.946,0.0077],[0.98,0.065],[1.02,0.040],[1.06,0.018],[1.09,0.026],[1.13,0.012],[1.155,0.053],[1.19,0.029],[1.21,0.080],[1.26,0.065],[1.30,0.104],[1.33,0.014],[1.38,0.061],[1.41,0.027],[1.44,0.155],[1.49,0.061],[1.51,0.177],[1.56,0.119],[1.58,0.041],[1.61,0.053],[1.67,0.018],[1.72,0.080],[1.74,0.012],[1.78,0.23],[1.80,0.053],[1.84,0.136],[1.88,0.091],[1.92,0.027],[1.97,0.20],[2.01,0.012],[2.06,0.080],[2.13,0.30],[2.22,0.027],[2.25,0.35],[2.30,0.053],[1.25,0.0058],[1.88,0.0058],[1.08,0.036]];

const orangeB = [[2.0,0.076],[2.19,0.124],[2.51,0.175],[2.75,0.185],[2.75,0.127],[3.13,0.116],[3.28,0.114],[3.37,0.111],[3.51,0.116],[3.39,0.238],[3.51,0.262],[4.26,0.122],[5.02,1.27],[5.24,0.203],[6.28,0.248],[8.42,1.57],[8.74,0.90],[9.75,1.0],[9.95,1.56],[11.3,6.1]];

// Fitted log10-log10 regressions (intercept, slope) and confidence half-width parameters
const fitA = {intercept:-2.405, slope:1.335, se0:0.035, se1:0.099, center:1.3};
const fitB = {intercept:-1.736, slope:1.99, se0:0.03, se1:0.087, center:0.5};

// Marginal histograms (counts per bin; bins equally spaced in log10)
const bodyLenBins = {startLog10:0.568, widthLog10:0.0581};
const bodyLenCounts = [5,17,21,34,25,58,65,91,70,81,102,115,110,118,72,104,94,58,82,35,37,46,42,19,20,6,8,4,4];
const headWidthBins = {startLog10:-0.0512, widthLog10:0.04827};
const headWidthCounts = [10,16,22,14,33,50,52,49,73,85,105,117,100,95,90,105,94,56,63,50,36,24,19,5,2,3,0,4,4];
const biteBins = {startLog10:-2.292, widthLog10:0.1167};
const biteCounts = [5,7,15,22,39,60,45,74,64,94,81,86,92,101,109,106,103,104,91,76,62,44,36,39,32,27,12,5,5];

// ---------------- BUILD ----------------
const W=680, H=591;
const FONT='Liberation Sans, Arial, Helvetica, sans-serif';
const px=v=>v/W, py=v=>1-v/H;
const col=(arr,i)=>arr.map(p=>p[i]);
const centers=(b,n)=>Array.from({length:n},(_,i)=>b.startLog10+b.widthLog10*(i+0.5));

const allBlackA=blackA.concat(blackAmid,blackAright), allGreyA=greyA.concat(greyAmid);
const allBlackB=blackB.concat(blackBmid,blackBleft), allGreyB=greyB.concat(greyBmid);

function fitTraces(fit, xs, xa, ya){
  const lo=Math.log10(Math.min(...xs)), hi=Math.log10(Math.max(...xs));
  const n=40, L=[], U=[], X=[], Y=[];
  for(let i=0;i<=n;i++){
    const l=lo+(hi-lo)*i/n, m=fit.intercept+fit.slope*l;
    const hw=Math.sqrt(fit.se0*fit.se0+fit.se1*fit.se1*(l-fit.center)*(l-fit.center));
    X.push(Math.pow(10,l)); Y.push(Math.pow(10,m)); U.push(Math.pow(10,m+hw)); L.push(Math.pow(10,m-hw));
  }
  const band={type:'scatter',mode:'lines',x:X.concat(X.slice().reverse()),y:U.concat(L.slice().reverse()),
    fill:'toself',fillcolor:'rgba(153,153,153,0.45)',line:{width:0},xaxis:xa,yaxis:ya,hoverinfo:'skip'};
  const line={type:'scatter',mode:'lines',x:X,y:Y,line:{color:'#3366FF',width:3.5},xaxis:xa,yaxis:ya};
  return [band,line];
}
function pts(arr,color,xa,ya,sym,size){
  return {type:'scatter',mode:'markers',x:col(arr,0),y:col(arr,1),xaxis:xa,yaxis:ya,
    marker:{color:color,size:size||4.8,symbol:sym||'circle',line:{width:0}}};
}
const barStyle=()=>({color:'#4f4f4f',line:{color:'#111',width:0.8}});

const traces=[
  {type:'bar',x:centers(bodyLenBins,bodyLenCounts.length),y:bodyLenCounts,width:bodyLenBins.widthLog10,xaxis:'x2',yaxis:'y2',marker:barStyle()},
  {type:'bar',orientation:'h',y:centers(biteBins,biteCounts.length),x:biteCounts,width:biteBins.widthLog10,xaxis:'x3',yaxis:'y3',marker:barStyle()},
  pts(allBlackA,'#000000','x','y'),
  pts(allGreyA,'#c6c6c6','x','y'),
  ...fitTraces(fitA,col(allBlackA,0).concat(col(allGreyA,0)),'x','y'),
  {type:'bar',x:centers(headWidthBins,headWidthCounts.length),y:headWidthCounts,width:headWidthBins.widthLog10,xaxis:'x5',yaxis:'y5',marker:barStyle()},
  {type:'bar',orientation:'h',y:centers(biteBins,biteCounts.length),x:biteCounts,width:biteBins.widthLog10,xaxis:'x6',yaxis:'y6',marker:barStyle()},
  pts(allBlackB,'#000000','x4','y4'),
  pts(allGreyB,'#c6c6c6','x4','y4'),
  ...fitTraces(fitB,col(allBlackB,0).concat(col(allGreyB,0)),'x4','y4'),
  pts(orangeB,'#F5A000','x4','y4','diamond',6.5)
];

const tf=()=>({family:FONT,size:11,color:'#4d4d4d'});
function mainX(domain,range,vals,minor,anchor){
  return {type:'log',domain:domain,range:range,anchor:anchor,tickmode:'array',tickvals:vals,ticktext:vals.map(String),
    ticks:'outside',ticklen:3,tickcolor:'#333',tickwidth:1,tickfont:tf(),
    showline:true,mirror:true,linecolor:'#333',linewidth:1,zeroline:false,
    showgrid:true,gridcolor:'#ebebeb',gridwidth:1,
    minor:{tickmode:'array',tickvals:minor,showgrid:true,gridcolor:'#f0f0f0',gridwidth:0.7,ticks:''}};
}
function mainY(domain,range,anchor){
  return {type:'log',domain:domain,range:range,anchor:anchor,tickmode:'array',tickvals:[0.01,0.1,1,10],ticktext:['0.01','0.1','1','10'],
    ticks:'outside',ticklen:3,tickcolor:'#333',tickwidth:1,tickfont:tf(),
    showline:true,mirror:true,linecolor:'#333',linewidth:1,zeroline:false,showgrid:false,
    minor:{tickmode:'array',tickvals:[10,2.69,0.743,0.205,0.0568,0.0156,0.00415],showgrid:true,gridcolor:'#ebebeb',gridwidth:1,ticks:''}};
}
const hidden=(o)=>Object.assign({visible:false,showgrid:false,zeroline:false,fixedrange:true},o);

const mainXdom=[px(45.3),px(577.3)];
const yDomA=[py(255.7),py(42.7)], yDomB=[py(557.7),py(344.3)];
const rightDom=[px(582.7),1];

const layout={
  width:W,height:H,margin:{l:0,r:0,t:0,b:0},paper_bgcolor:'#fff',plot_bgcolor:'rgba(0,0,0,0)',
  showlegend:false,bargap:0,font:{family:FONT,color:'#4d4d4d'},
  xaxis:mainX(mainXdom,[0.4854,2.339],[10,30,100],[5.7,17.3,54.4,174],'y'),
  yaxis:mainY(yDomA,[-2.4625,1.2548],'x'),
  xaxis2:hidden({domain:mainXdom,range:[0.4854,2.339],anchor:'y2'}),
  yaxis2:hidden({domain:[py(40.7),1],range:[0,121.9],anchor:'x2'}),
  xaxis3:hidden({domain:rightDom,range:[0,109.3],anchor:'y3'}),
  yaxis3:hidden({domain:yDomA,range:[-2.4625,1.2548],anchor:'x3'}),
  xaxis4:mainX(mainXdom,[-0.1197,1.4187],[1,3,10],[1.73,5.48,17.3],'y4'),
  yaxis4:mainY(yDomB,[-2.455,1.2688],'x4'),
  xaxis5:hidden({domain:mainXdom,range:[-0.1197,1.4187],anchor:'y5'}),
  yaxis5:hidden({domain:[py(342.3),py(300)],range:[0,126.9],anchor:'x5'}),
  xaxis6:hidden({domain:rightDom,range:[0,109.3],anchor:'y6'}),
  yaxis6:hidden({domain:yDomB,range:[-2.455,1.2688],anchor:'x6'}),
  annotations:[
    {text:'<b>(a)</b>',x:px(3),y:py(32),xref:'paper',yref:'paper',xanchor:'left',yanchor:'middle',showarrow:false,font:{family:FONT,size:11,color:'#000'}},
    {text:'body length [mm]',x:px(311),y:py(284),xref:'paper',yref:'paper',xanchor:'center',yanchor:'middle',showarrow:false,font:{family:FONT,size:12,color:'#000'}},
    {text:'bite force [N]',x:px(9),y:py(149),xref:'paper',yref:'paper',xanchor:'center',yanchor:'middle',textangle:-90,showarrow:false,font:{family:FONT,size:12,color:'#000'}},
    {text:'<b>(b)</b>',x:px(3),y:py(335),xref:'paper',yref:'paper',xanchor:'left',yanchor:'middle',showarrow:false,font:{family:FONT,size:11,color:'#000'}},
    {text:'head width [mm]',x:px(311),y:py(578),xref:'paper',yref:'paper',xanchor:'center',yanchor:'middle',showarrow:false,font:{family:FONT,size:12,color:'#000'}},
    {text:'bite force [N]',x:px(9),y:py(451),xref:'paper',yref:'paper',xanchor:'center',yanchor:'middle',textangle:-90,showarrow:false,font:{family:FONT,size:12,color:'#000'}}
  ]
};
Plotly.newPlot('chart',traces,layout,{staticPlot:true,displayModeBar:false});
</script></body></html>
